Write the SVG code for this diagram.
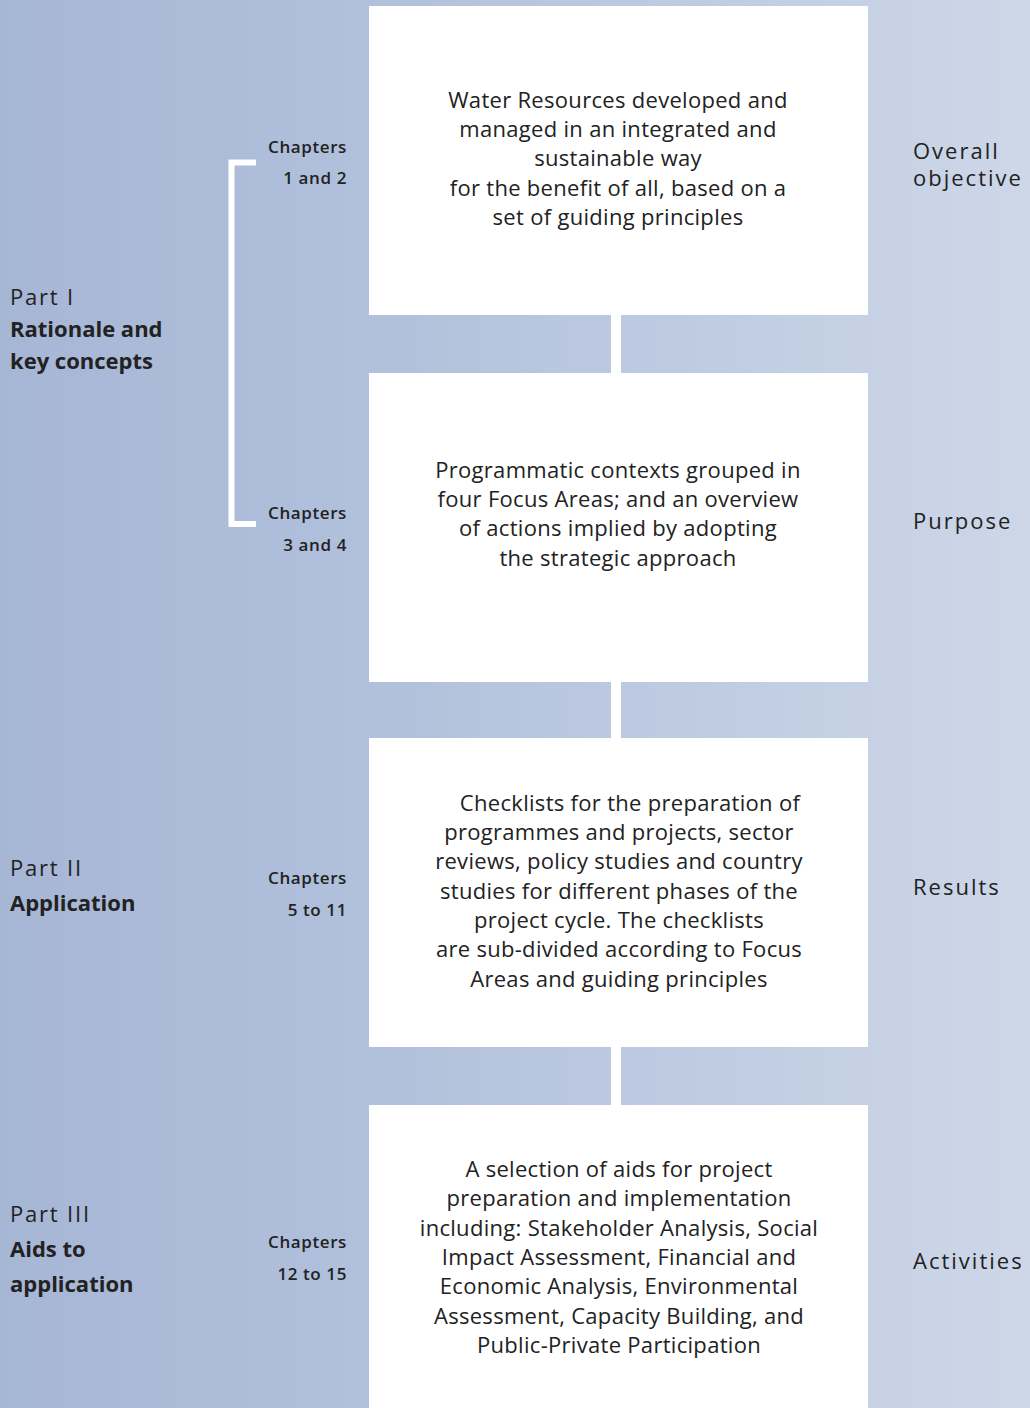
<svg xmlns="http://www.w3.org/2000/svg" width="1030" height="1408" viewBox="0 0 1030 1408">
<defs>
<linearGradient id="bg" x1="0" y1="0" x2="1030" y2="0" gradientUnits="userSpaceOnUse">
<stop offset="0" stop-color="#a6b6d5"/>
<stop offset="0.36" stop-color="#b1c0db"/>
<stop offset="1" stop-color="#cdd7e8"/>
</linearGradient>
<style>
.box{fill:#ffffff}
.ctr{font-family:"Open Sans","Liberation Sans",sans-serif;font-size:22px;letter-spacing:0.3px;fill:#222;text-anchor:middle}
.part{font-family:"Open Sans","Liberation Sans",sans-serif;font-size:22px;fill:#222}
.light{letter-spacing:1.8px}
.bold{font-weight:700}
.chap{font-family:"Open Sans","Liberation Sans",sans-serif;font-size:17px;font-weight:600;letter-spacing:0.6px;fill:#222;text-anchor:end}
.lvl{font-family:"Open Sans","Liberation Sans",sans-serif;font-size:22px;fill:#222;letter-spacing:2px}
</style>
</defs>
<rect x="0" y="0" width="1030" height="1408" fill="url(#bg)"/>
<g id="connectors">
<rect x="611" y="315" width="10" height="58" fill="#fff"/>
<rect x="611" y="682" width="10" height="56" fill="#fff"/>
<rect x="611" y="1047" width="10" height="58" fill="#fff"/>
<path d="M256,162.5 H231.5 V524 H256" fill="none" stroke="#fff" stroke-width="6"/>
</g>
<g id="box1">
<rect class="box" x="369" y="6" width="499" height="309"/>
<text class="ctr"><tspan x="618" y="108">Water Resources developed and</tspan><tspan x="618" y="137">managed in an integrated and</tspan><tspan x="618" y="166">sustainable way</tspan><tspan x="618" y="196">for the benefit of all, based on a</tspan><tspan x="618" y="225">set of guiding principles</tspan></text>
</g>
<g id="box2">
<rect class="box" x="369" y="373" width="499" height="309"/>
<text class="ctr"><tspan x="618" y="478">Programmatic contexts grouped in</tspan><tspan x="618" y="507">four Focus Areas; and an overview</tspan><tspan x="618" y="536">of actions implied by adopting</tspan><tspan x="618" y="566">the strategic approach</tspan></text>
</g>
<g id="box3">
<rect class="box" x="369" y="738" width="499" height="309"/>
<text class="ctr"><tspan x="630" y="811">Checklists for the preparation of</tspan><tspan x="619" y="840">programmes and projects, sector</tspan><tspan x="619" y="869">reviews, policy studies and country</tspan><tspan x="619" y="899">studies for different phases of the</tspan><tspan x="619" y="928">project cycle. The checklists</tspan><tspan x="619" y="957">are sub-divided according to Focus</tspan><tspan x="619" y="987">Areas and guiding principles</tspan></text>
</g>
<g id="box4">
<rect class="box" x="369" y="1105" width="499" height="303"/>
<text class="ctr"><tspan x="619" y="1177">A selection of aids for project</tspan><tspan x="619" y="1206">preparation and implementation</tspan><tspan x="619" y="1236">including: Stakeholder Analysis, Social</tspan><tspan x="619" y="1265">Impact Assessment, Financial and</tspan><tspan x="619" y="1294">Economic Analysis, Environmental</tspan><tspan x="619" y="1324">Assessment, Capacity Building, and</tspan><tspan x="619" y="1353">Public-Private Participation</tspan></text>
</g>
<g id="part1">
<text class="part light" x="10" y="305">Part I</text>
<text class="part bold" x="10" y="337">Rationale and</text>
<text class="part bold" x="10" y="369">key concepts</text>
</g>
<g id="part2">
<text class="part light" x="10" y="876">Part II</text>
<text class="part bold" x="10" y="911">Application</text>
</g>
<g id="part3">
<text class="part light" x="10" y="1222">Part III</text>
<text class="part bold" x="10" y="1257">Aids to</text>
<text class="part bold" x="10" y="1292">application</text>
</g>
<g id="chap1">
<text class="chap" x="347" y="153">Chapters</text>
<text class="chap" x="347" y="184">1 and 2</text>
</g>
<g id="chap2">
<text class="chap" x="347" y="519">Chapters</text>
<text class="chap" x="347" y="551">3 and 4</text>
</g>
<g id="chap3">
<text class="chap" x="347" y="884">Chapters</text>
<text class="chap" x="347" y="916">5 to 11</text>
</g>
<g id="chap4">
<text class="chap" x="347" y="1248">Chapters</text>
<text class="chap" x="347" y="1280">12 to 15</text>
</g>
<g id="lvl1">
<text class="lvl" x="913" y="159">Overall</text>
<text class="lvl" x="913" y="186">objective</text>
</g>
<g id="lvl2"><text class="lvl" x="913" y="529">Purpose</text></g>
<g id="lvl3"><text class="lvl" x="913" y="895">Results</text></g>
<g id="lvl4"><text class="lvl" x="913" y="1269">Activities</text></g>
</svg>
